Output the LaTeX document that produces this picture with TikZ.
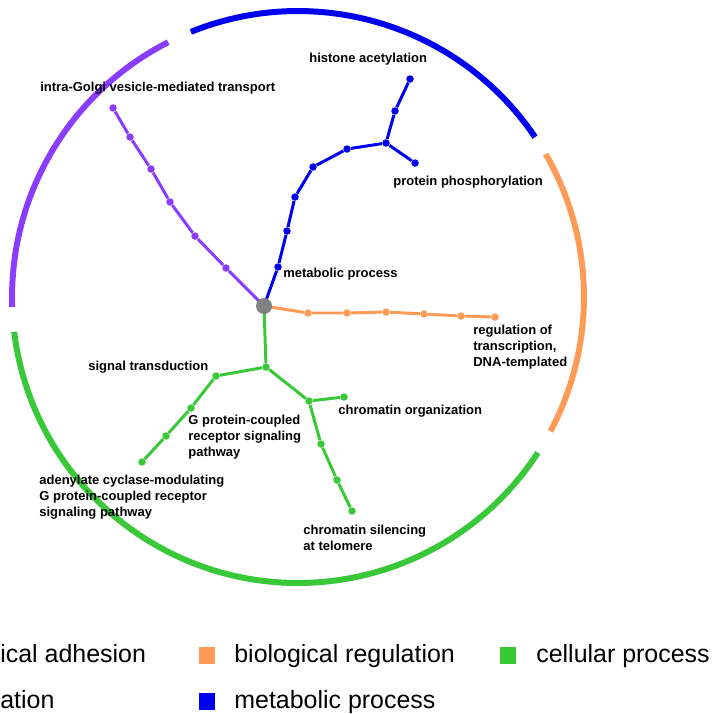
\documentclass[tikz,border=0pt]{standalone}
\usepackage{fontspec}
\setmainfont{Liberation Sans}
\definecolor{gopurple}{HTML}{8A3DFF}
\definecolor{goblue}{HTML}{0000F0}
\definecolor{goorange}{HTML}{FF9A57}
\definecolor{gogreen}{HTML}{38C838}
\definecolor{gogray}{HTML}{808080}

\begin{document}
\begin{tikzpicture}[x=0.02cm,y=-0.02cm]
\tikzstyle{every node}+=[inner sep=0pt]
\tikzstyle{dot}=[circle,minimum size=0.15cm]
\tikzstyle{hub}=[circle,minimum size=0.32cm,fill=gogray]
\tikzstyle{branch}=[line width=1.7pt]
\tikzstyle{ring}=[line width=3.4pt]
\tikzstyle{term}=[font=\bfseries\fontsize{7.4}{9}\selectfont,anchor=west,align=left]
\tikzstyle{keybox}=[minimum width=0.32cm,minimum height=0.34cm]
\tikzstyle{key}=[font=\fontsize{14.2}{16}\selectfont,anchor=base west]
\useasboundingbox (0,0) rectangle (711,714);
% outer ring
\coordinate (c) at (298,297);
\draw [ring,gopurple] ([shift={(117:5.72cm)}]c) arc[start angle=117,end angle=182,radius=5.72cm];
\draw [ring,goblue] ([shift={(34:5.72cm)}]c) arc[start angle=34,end angle=112,radius=5.72cm];
\draw [ring,goorange] ([shift={(-28:5.72cm)}]c) arc[start angle=-28,end angle=30,radius=5.72cm];
\draw [ring,gogreen] ([shift={(187:5.72cm)}]c) arc[start angle=187,end angle=327,radius=5.72cm];
% tree
\node [dot,fill=gopurple] (pu1) at (226,268) {};
\node [dot,fill=gopurple] (pu2) at (195,236) {};
\node [dot,fill=gopurple] (pu3) at (170,202) {};
\node [dot,fill=gopurple] (pu4) at (151,169) {};
\node [dot,fill=gopurple] (pu5) at (130,137) {};
\node [dot,fill=gopurple] (pu6) at (113,108) {};
\node [dot,fill=goblue] (bl1) at (278,267) {};
\node [dot,fill=goblue] (bl2) at (287,231) {};
\node [dot,fill=goblue] (bl3) at (295,197) {};
\node [dot,fill=goblue] (bl4) at (313,167) {};
\node [dot,fill=goblue] (bl5) at (347,149) {};
\node [dot,fill=goblue] (bl6) at (386,143) {};
\node [dot,fill=goblue] (bl7) at (395,111) {};
\node [dot,fill=goblue] (bl8) at (410,79) {};
\node [dot,fill=goblue] (bl9) at (415,163) {};
\node [dot,fill=goorange] (or1) at (308,313) {};
\node [dot,fill=goorange] (or2) at (347,313) {};
\node [dot,fill=goorange] (or3) at (386,312) {};
\node [dot,fill=goorange] (or4) at (424,314) {};
\node [dot,fill=goorange] (or5) at (461,316) {};
\node [dot,fill=goorange] (or6) at (495,317) {};
\node [dot,fill=gogreen] (gr1) at (266,367) {};
\node [dot,fill=gogreen] (gr2) at (216,376) {};
\node [dot,fill=gogreen] (gr3) at (191,408) {};
\node [dot,fill=gogreen] (gr4) at (166,436) {};
\node [dot,fill=gogreen] (gr5) at (142,462) {};
\node [dot,fill=gogreen] (gr6) at (309,401) {};
\node [dot,fill=gogreen] (gr7) at (344,397) {};
\node [dot,fill=gogreen] (gr8) at (321,444) {};
\node [dot,fill=gogreen] (gr9) at (337,480) {};
\node [dot,fill=gogreen] (gr10) at (352,511) {};
\draw [branch,gopurple] (264,306) -- (pu1) -- (pu2) -- (pu3) -- (pu4) -- (pu5) -- (pu6);
\draw [branch,goblue] (264,306) -- (bl1) -- (bl2) -- (bl3) -- (bl4) -- (bl5) -- (bl6) -- (bl7) -- (bl8);
\draw [branch,goblue] (bl6) -- (bl9);
\draw [branch,goorange] (264,306) -- (or1) -- (or2) -- (or3) -- (or4) -- (or5) -- (or6);
\draw [branch,gogreen] (264,306) -- (gr1) -- (gr2) -- (gr3) -- (gr4) -- (gr5);
\draw [branch,gogreen] (gr1) -- (gr6) -- (gr7);
\draw [branch,gogreen] (gr6) -- (gr8) -- (gr9) -- (gr10);
\node [hub] (root) at (264,306) {};
% labels
\node [term] (tGolgi) at (40,88) {intra-Golgi vesicle-mediated transport};
\node [term] (tHist) at (309,59) {histone acetylation};
\node [term] (tPhos) at (393,182) {protein phosphorylation};
\node [term] (tMeta) at (283,274) {metabolic process};
\node [term] (tReg) at (473,347) {regulation of\\transcription,\\DNA-templated};
\node [term] (tSig) at (88,367) {signal transduction};
\node [term] (tGpcr) at (188,437) {G protein-coupled\\receptor signaling\\pathway};
\node [term] (tAden) at (39,497) {adenylate cyclase-modulating\\G protein-coupled receptor\\signaling pathway};
\node [term] (tChro) at (338,411) {chromatin organization};
\node [term] (tSil) at (303,538) {chromatin silencing\\at telomere};
% legend
\node [key] (kAdh) at (0,662) {ical adhesion};
\node [keybox,fill=goorange] (bOrange) at (207,655) {};
\node [key] (kOrange) at (234,662) {biological regulation};
\node [keybox,fill=gogreen] (bGreen) at (508,655) {};
\node [key] (kGreen) at (536,662) {cellular process};
\node [key] (kLoc) at (0,708) {ation};
\node [keybox,fill=goblue] (bBlue) at (207,701) {};
\node [key] (kBlue) at (234,708) {metabolic process};
\end{tikzpicture}
\end{document}
